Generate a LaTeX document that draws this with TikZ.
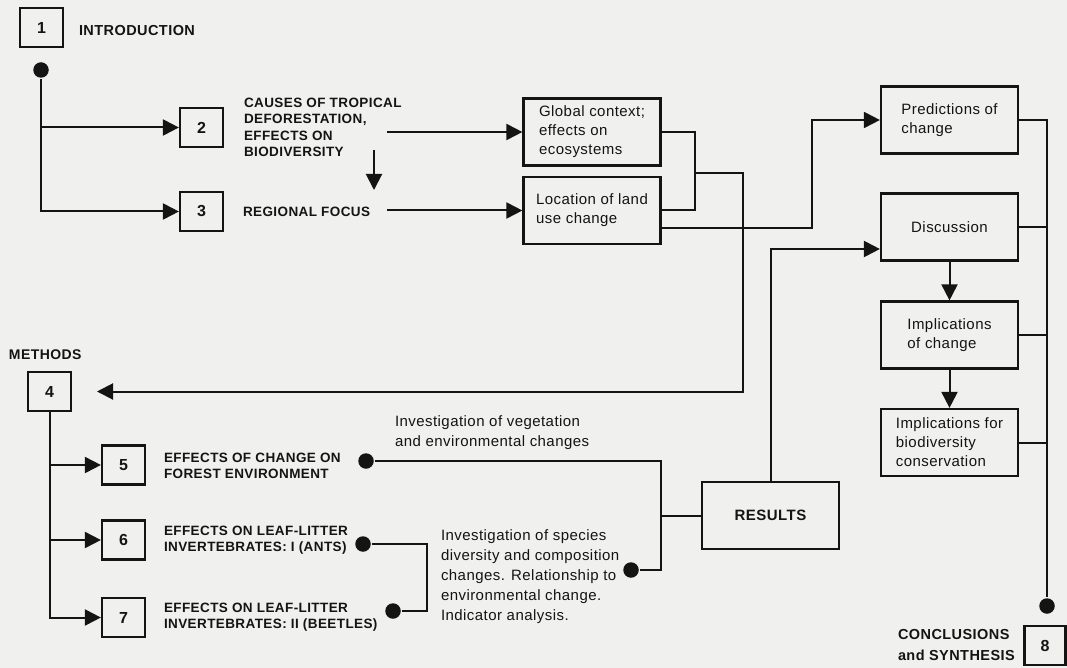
\documentclass[tikz,border=0pt]{standalone}
\usepackage{fontspec}
\setmainfont{Liberation Sans}[LetterSpace=3]
\usetikzlibrary{arrows.meta}
\definecolor{bg}{RGB}{240,240,238}
\definecolor{ink}{RGB}{20,20,20}
\begin{document}
\begin{tikzpicture}[x=1pt,y=-1pt,line width=2pt,draw=ink,text=ink,
  numbox/.style={draw,line width=2.2pt,minimum width=43pt,minimum height=39pt,inner sep=0pt,font=\fontsize{16}{18}\selectfont\bfseries},
  txtbox/.style={draw,line width=2.2pt,minimum width=137pt,minimum height=67pt,inner sep=0pt,align=left,font=\fontsize{15}{19}\selectfont},
  captxt/.style={anchor=west,inner sep=0pt,align=left,font=\fontsize{13.5}{16.3}\selectfont\bfseries},
  labtxt/.style={anchor=west,inner sep=0pt,align=left,font=\fontsize{15}{20}\selectfont},
  arr/.style={-{Triangle[length=16pt,width=16pt]}},
  dotnode/.style={circle,fill=ink,draw=none,inner sep=0pt,minimum size=15.5pt}]
\fill[bg] (0,0) rectangle (1067,668);
\useasboundingbox (0,0) rectangle (1067,668);

% introduction
\node[numbox] (b1) at (41.5,27.5) {1};
\node[captxt,font=\fontsize{14.5}{17}\selectfont\bfseries] (tintro) at (78,31) {INTRODUCTION};
\node[dotnode] (d1) at (41,70) {};
\node[numbox] (b2) at (201.5,127.5) {2};
\node[numbox] (b3) at (201.5,211.5) {3};
\draw[arr] (d1) |- (b3.west);
\draw[arr] (d1 |- b2.west) -- (b2.west);
\node[captxt] (t2) at (243,127.5) {CAUSES OF TROPICAL\\DEFORESTATION,\\EFFECTS ON\\BIODIVERSITY};
\node[captxt] (t3) at (242,212) {REGIONAL FOCUS};
\coordinate (dn1) at (374,150);
\coordinate (dn2) at (374,190);
\draw[arr] (dn1) -- (dn2);

\node[txtbox] (glob) at (592,132) {Global context;\\effects on\\ecosystems};
\node[txtbox] (loc) at (592,210.5) {Location of land\\use change};
\coordinate (a2s) at (387,132);
\coordinate (a3s) at (387,210.5);
\draw[arr] (a2s) -- (glob.west);
\draw[arr] (a3s) -- (loc.west);

% bracket to methods
\coordinate (br) at (695,173);
\coordinate (bv) at (743,173);
\coordinate (m4) at (97,391.5);
\draw (glob.east) -| (br) |- (loc.east);
\draw[arr] (br) -- (bv) |- (m4);

% right column
\node[txtbox] (pred) at (949.5,120) {Predictions of\\change};
\node[txtbox] (disc) at (949.5,227) {Discussion};
\node[txtbox] (impl) at (949.5,335) {Implications\\of change};
\node[txtbox] (bio) at (949.5,442.5) {Implications for\\biodiversity\\conservation};
\coordinate (lx) at (812,228);
\draw[arr] ([yshift=-17.5pt]loc.east) -- (lx) |- (pred.west);
\draw[arr] (disc) -- (impl);
\draw[arr] (impl) -- (bio);

\node[dotnode] (d8) at (1047,606) {};
\draw (pred.east) -| (d8);
\draw (disc.east) -- (disc.east -| d8);
\draw (impl.east) -- (impl.east -| d8);
\draw (bio.east) -- (bio.east -| d8);
\node[numbox,minimum width=41pt] (b8) at (1045,645.5) {8};
\node[anchor=west,inner sep=0pt,align=left,font=\fontsize{14.5}{21}\selectfont\bfseries] (t8) at (897,645.5) {CONCLUSIONS\\and SYNTHESIS};

% results
\node[txtbox,font=\fontsize{15}{18}\selectfont\bfseries] (res) at (770.5,515.5) {RESULTS};
\draw[arr] (res.north) |- ([yshift=-22pt]disc.west);

% methods
\node[anchor=west,inner sep=0pt,font=\fontsize{14}{17}\selectfont\bfseries] (tmeth) at (8,355) {METHODS};
\node[numbox] (b4) at (49.5,391.5) {4};
\node[numbox] (b5) at (123.5,465) {5};
\node[numbox] (b6) at (123.5,540) {6};
\node[numbox] (b7) at (123.5,617.5) {7};
\draw[arr] (b4.south) |- (b7.west);
\draw[arr] (b4.south |- b5.west) -- (b5.west);
\draw[arr] (b4.south |- b6.west) -- (b6.west);
\node[captxt] (t5) at (163,465.5) {EFFECTS OF CHANGE ON\\FOREST ENVIRONMENT};
\node[captxt] (t6) at (163,540) {EFFECTS ON LEAF-LITTER\\INVERTEBRATES: I (ANTS)};
\node[captxt] (t7) at (163,617) {EFFECTS ON LEAF-LITTER\\INVERTEBRATES: II (BEETLES)};

% investigations
\node[dotnode] (d5) at (366,461) {};
\node[dotnode] (ds) at (631,570) {};
\coordinate (j1) at (661,515.5);
\draw (d5) -| (j1) |- (ds);
\draw (j1) -- (res.west);
\node[dotnode] (d6) at (363,544) {};
\node[dotnode] (d7) at (393,611) {};
\coordinate (k) at (427,577);
\draw (d6) -| (k) |- (d7);
\node[labtxt] (lveg) at (394,433) {Investigation of vegetation\\and environmental changes};
\node[labtxt] (lspe) at (440,577) {Investigation of species\\diversity and composition\\changes. Relationship to\\environmental change.\\Indicator analysis.};
\end{tikzpicture}
\end{document}
